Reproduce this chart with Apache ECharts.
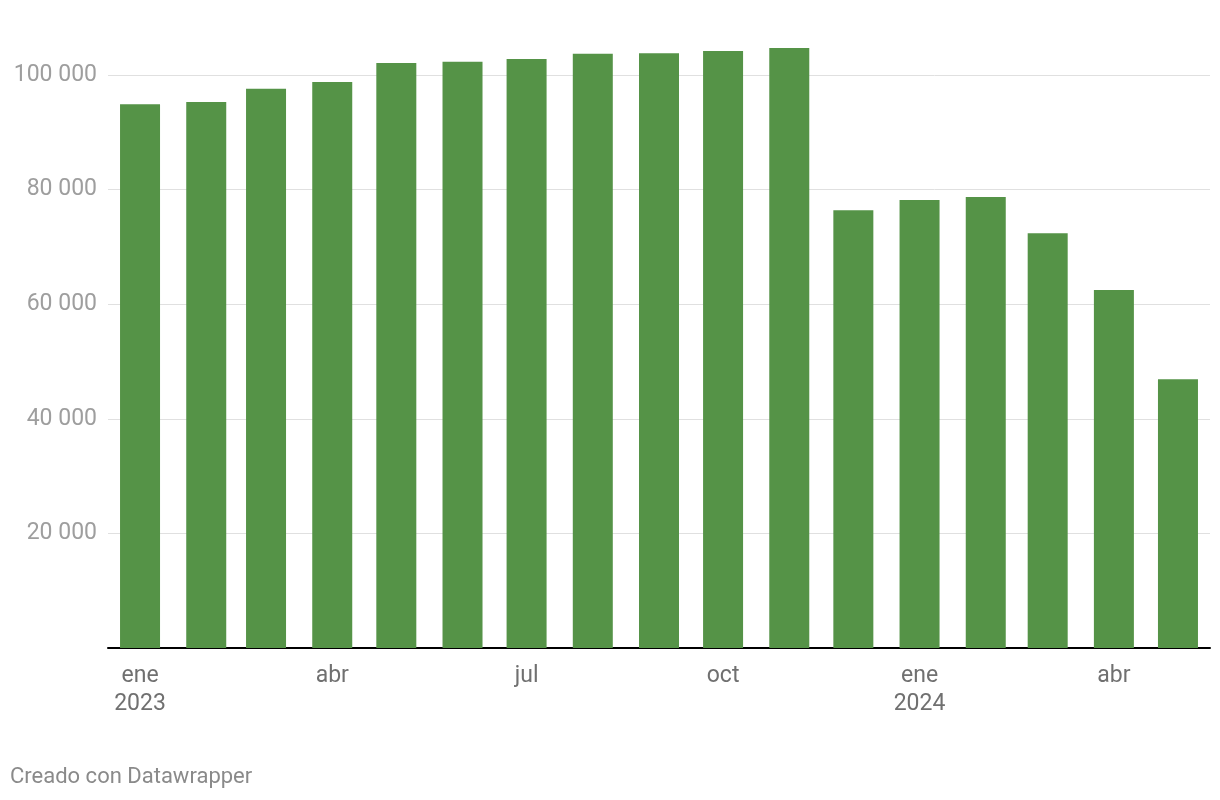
<!DOCTYPE html>
<html>
<head>
<meta charset="utf-8">
<script src="https://cdn.jsdelivr.net/npm/echarts@6/dist/echarts.min.js"></script>
<style>
html,body{margin:0;padding:0;background:#fff;}
#chart{width:1220px;height:800px;}
</style>
</head>
<body>
<div id="chart"></div>
<script>
// Monthly values, Jan 2023 – May 2024
const months = ['2023-01','2023-02','2023-03','2023-04','2023-05','2023-06','2023-07','2023-08','2023-09','2023-10','2023-11','2023-12','2024-01','2024-02','2024-03','2024-04','2024-05'];
const values = [94900, 95300, 97600, 98800, 102100, 102300, 102800, 103700, 103800, 104200, 104700, 76400, 78200, 78700, 72400, 62500, 46900];
const tickMonths = ['2023-01','2023-04','2023-07','2023-10','2024-01','2024-04'];
const tickLabels = ['ene\n2023','abr','jul','oct','ene\n2024','abr'];

function ts(m, d) {
  const [y, mo] = m.split('-').map(Number);
  return Date.UTC(y, mo - 1, d || 1);
}
const tickTs = tickMonths.map(m => ts(m));
const labelMap = {};
tickTs.forEach((t, i) => { labelMap[t] = tickLabels[i]; });

const chart = echarts.init(document.getElementById('chart'));
chart.setOption({
  animation: false,
  backgroundColor: '#ffffff',
  textStyle: { fontFamily: 'Roboto' },
  title: {
    text: 'Creado con Datawrapper',
    left: 5, top: 761,
    textStyle: { fontFamily: 'Roboto', fontSize: 22, fontWeight: 'normal', color: '#8a8a8a' }
  },
  grid: { left: 108, right: 10, top: 75, bottom: 152, containLabel: false },
  xAxis: {
    type: 'value',
    min: Date.UTC(2022, 11, 17),
    max: Date.UTC(2024, 4, 16),
    axisLine: { show: true, onZero: false, lineStyle: { color: '#000', width: 2 } },
    axisTick: { show: false },
    splitLine: { show: false },
    axisLabel: {
      customValues: tickTs,
      formatter: v => labelMap[v] || '',
      fontFamily: 'Roboto',
      fontSize: 23,
      lineHeight: 28,
      color: '#707070',
      margin: 14
    }
  },
  yAxis: {
    type: 'value',
    min: 0,
    max: 100000,
    interval: 20000,
    axisLine: { show: false },
    axisTick: { show: false },
    splitLine: { show: true, lineStyle: { color: '#e0e0e0', width: 1 } },
    axisLabel: {
      fontFamily: 'Roboto',
      fontSize: 23,
      color: '#9e9e9e',
      margin: 11,
      formatter: v => v === 0 ? '' : String(v).replace(/\B(?=(\d{3})+(?!\d))/g, ' ')
    }
  },
  series: [{
    type: 'bar',
    clip: false,
    barWidth: 40,
    itemStyle: { color: '#559347' },
    data: months.map((m, i) => [ts(m), values[i]])
  }]
});
</script>
</body>
</html>
